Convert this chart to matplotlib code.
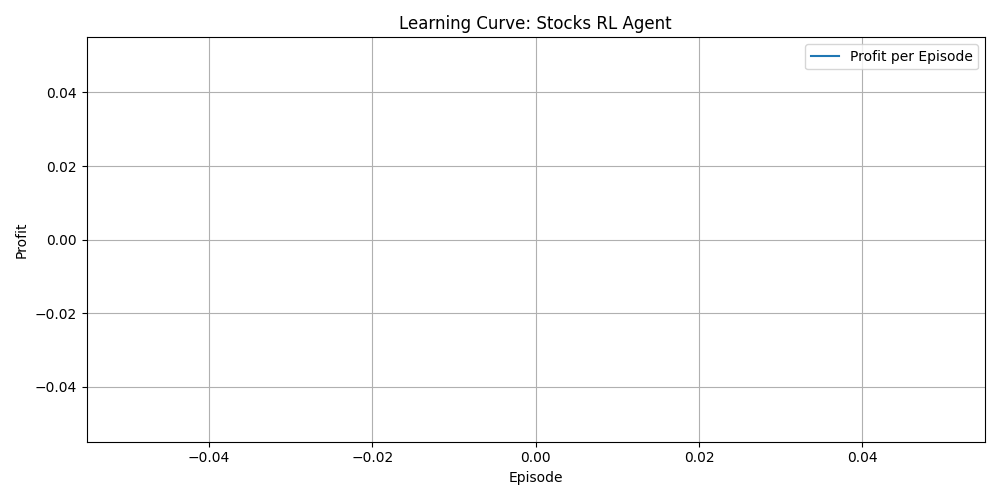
import matplotlib
matplotlib.use("Agg")
import matplotlib.pyplot as plt

episodes = []
profits = []

fig, ax = plt.subplots(figsize=(10, 5), dpi=100)
ax.plot(episodes, profits, label="Profit per Episode")
ax.set_title("Learning Curve: Stocks RL Agent")
ax.set_xlabel("Episode")
ax.set_ylabel("Profit")
ax.grid(True)
ax.legend()
fig.tight_layout()
fig.savefig("out.png")
